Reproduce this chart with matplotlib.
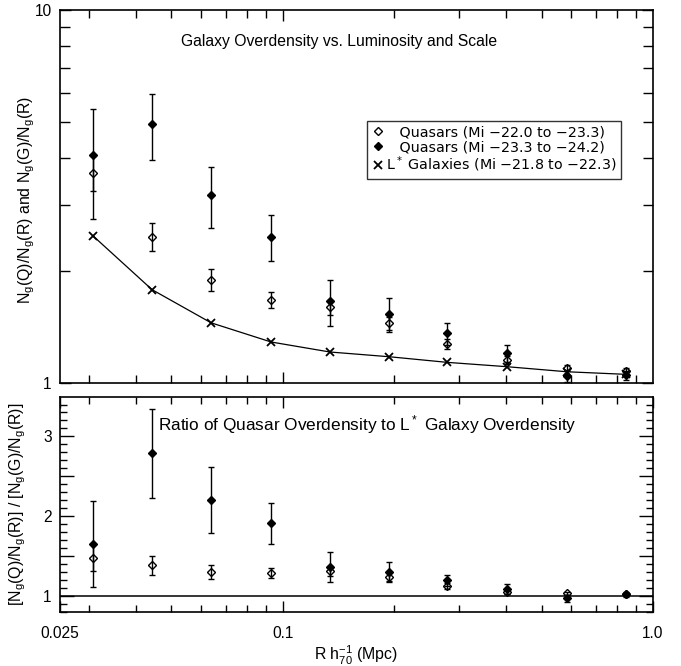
import matplotlib
matplotlib.use('Agg')
import matplotlib.pyplot as plt
from matplotlib.lines import Line2D
from matplotlib.ticker import FixedLocator, FixedFormatter, NullFormatter, MultipleLocator, FuncFormatter

plt.rcParams['font.family'] = ['Liberation Sans', 'DejaVu Sans']
plt.rcParams['mathtext.default'] = 'regular'
plt.rcParams['axes.linewidth'] = 1.2

# separation bins, R h70^-1 (Mpc)
r = [0.0307, 0.0443, 0.064, 0.093, 0.134, 0.194, 0.278, 0.403, 0.585, 0.845]

# top panel: overdensities
qso_faint = [3.66, 2.47, 1.89, 1.67, 1.596, 1.445, 1.272, 1.152, 1.095, 1.077]
qso_faint_err = [0.39, 0.21, 0.13, 0.08, 0.07, 0.06, 0.04, 0.03, 0.02, 0.02]
qso_bright = [4.09, 4.95, 3.20, 2.47, 1.655, 1.534, 1.358, 1.201, 1.044, 1.05]
qso_bright_err = [1.34, 1.00, 0.60, 0.35, 0.23, 0.16, 0.09, 0.065, 0.04, 0.03]
gal = [2.48, 1.78, 1.45, 1.288, 1.211, 1.176, 1.136, 1.106, 1.072, 1.055]

# bottom panel: ratio quasar / galaxy overdensity
ratio_faint = [1.477, 1.385, 1.30, 1.289, 1.31, 1.23, 1.12, 1.05, 1.03, 1.02]
ratio_faint_err = [0.17, 0.12, 0.09, 0.065, 0.06, 0.05, 0.035, 0.025, 0.02, 0.02]
ratio_bright = [1.645, 2.787, 2.20, 1.908, 1.364, 1.30, 1.197, 1.084, 0.967, 1.018]
ratio_bright_err = [0.54, 0.56, 0.41, 0.26, 0.19, 0.13, 0.07, 0.06, 0.04, 0.03]

lab_faint = '   Quasars (Mi \u221222.0 to \u221223.3)'
lab_bright = '   Quasars (Mi \u221223.3 to \u221224.2)'
lab_gal = 'L$^*$ Galaxies (Mi \u221221.8 to \u221222.3)'

fig = plt.figure(figsize=(6.81, 6.66), dpi=100)
ax1 = fig.add_axes([0.0881, 0.4249, 0.8708, 0.5601])
ax2 = fig.add_axes([0.0881, 0.0815, 0.8708, 0.3219])

eb = dict(ls='none', color='black', ecolor='black', elinewidth=1.0,
          capsize=2, capthick=1.0, marker='D', ms=4.0, mew=1.0)

# ---- top panel
ax1.plot(r, gal, color='black', lw=0.9)
ax1.errorbar(r, qso_faint, yerr=qso_faint_err, mfc='none', mec='black', **eb)
ax1.errorbar(r, qso_bright, yerr=qso_bright_err, mfc='black', mec='black', **eb)
ax1.plot(r, gal, ls='none', color='black', marker='x', ms=6, mew=1.3)

ax1.set_xscale('log')
ax1.set_yscale('log')
ax1.set_xlim(0.025, 1.0)
ax1.set_ylim(1, 10)
ax1.yaxis.set_major_locator(FixedLocator([1, 10]))
ax1.yaxis.set_major_formatter(FixedFormatter(['1', '10']))
ax1.yaxis.set_minor_locator(FixedLocator([2, 3, 4, 5, 6, 7, 8, 9]))
ax1.yaxis.set_minor_formatter(NullFormatter())
ax1.xaxis.set_major_locator(FixedLocator([0.1]))
ax1.xaxis.set_major_formatter(NullFormatter())
ax1.xaxis.set_minor_locator(FixedLocator([0.03, 0.04, 0.05, 0.06, 0.07, 0.08, 0.09,
                                           0.2, 0.3, 0.4, 0.5, 0.6, 0.7, 0.8, 0.9]))
ax1.xaxis.set_minor_formatter(NullFormatter())
ax1.tick_params(which='both', direction='in', top=True, right=True, width=1.0, labelsize=11.2, pad=6)
ax1.tick_params(which='major', length=8)
ax1.tick_params(which='minor', length=6)
ax1.tick_params(axis='y', which='minor', length=7)
ax1.set_ylabel('N$_g$(Q)/N$_g$(R) and N$_g$(G)/N$_g$(R)', fontsize=11.4)
ax1.yaxis.set_label_coords(-0.039, 0.49)
ax1.text(0.471, 0.915, 'Galaxy Overdensity vs. Luminosity and Scale',
         transform=ax1.transAxes, ha='center', va='center', fontsize=11.3)

handles = [Line2D([], [], ls='none', marker='D', ms=4.0, mew=1.0, mfc='none', mec='black'),
           Line2D([], [], ls='none', marker='D', ms=4.0, mew=1.0, mfc='black', mec='black'),
           Line2D([], [], ls='none', marker='x', ms=6, mew=1.3, color='black')]
leg = ax1.legend(handles, [lab_faint, lab_bright, lab_gal], loc='upper left',
                 bbox_to_anchor=(0.517, 0.702), borderaxespad=0,
                 prop={'family': 'DejaVu Sans', 'size': 10.3}, frameon=True, fancybox=False,
                 edgecolor='black', handlelength=1.0, handletextpad=0.05, borderpad=0.3,
                 labelspacing=0.05, numpoints=1)
leg.get_frame().set_linewidth(1.0)

# ---- bottom panel
ax2.axhline(1.0, color='black', lw=1.1)
ax2.errorbar(r, ratio_faint, yerr=ratio_faint_err, mfc='none', mec='black', **eb)
ax2.errorbar(r, ratio_bright, yerr=ratio_bright_err, mfc='black', mec='black', **eb)

ax2.set_xscale('log')
ax2.set_xlim(0.025, 1.0)
ax2.set_ylim(0.8, 3.49)
ax2.xaxis.set_major_locator(FixedLocator([0.025, 0.1, 1.0]))
ax2.xaxis.set_major_formatter(FixedFormatter(['0.025', '0.1', '1.0']))
ax2.xaxis.set_minor_locator(FixedLocator([0.03, 0.04, 0.05, 0.06, 0.07, 0.08, 0.09,
                                           0.2, 0.3, 0.4, 0.5, 0.6, 0.7, 0.8, 0.9]))
ax2.xaxis.set_minor_formatter(NullFormatter())
ax2.yaxis.set_major_locator(MultipleLocator(0.5))
ax2.yaxis.set_major_formatter(FuncFormatter(lambda v, p: '%d' % round(v) if abs(v - round(v)) < 1e-6 else ''))
ax2.yaxis.set_minor_locator(MultipleLocator(0.1))
ax2.tick_params(which='both', direction='in', top=True, right=True, width=1.0, labelsize=11.2)
ax2.tick_params(axis='x', which='major', length=8, pad=10)
ax2.tick_params(axis='x', which='minor', length=5)
ax2.tick_params(axis='y', which='major', length=10, pad=6)
ax2.tick_params(axis='y', which='minor', length=5)
ax2.set_ylabel('[N$_g$(Q)/N$_g$(R)] / [N$_g$(G)/N$_g$(R)]', fontsize=11.4)
ax2.yaxis.set_label_coords(-0.054, 0.502)
ax2.set_xlabel('R h$_{70}^{-1}$ (Mpc)', fontsize=11.4)
ax2.xaxis.set_label_coords(0.5, -0.15)
ax2.text(0.5186, 0.874, 'Ratio of Quasar Overdensity to L$^*$ Galaxy Overdensity',
         transform=ax2.transAxes, ha='center', va='center', fontsize=12.4)

fig.savefig('out.png', dpi=100)
plt.close(fig)
